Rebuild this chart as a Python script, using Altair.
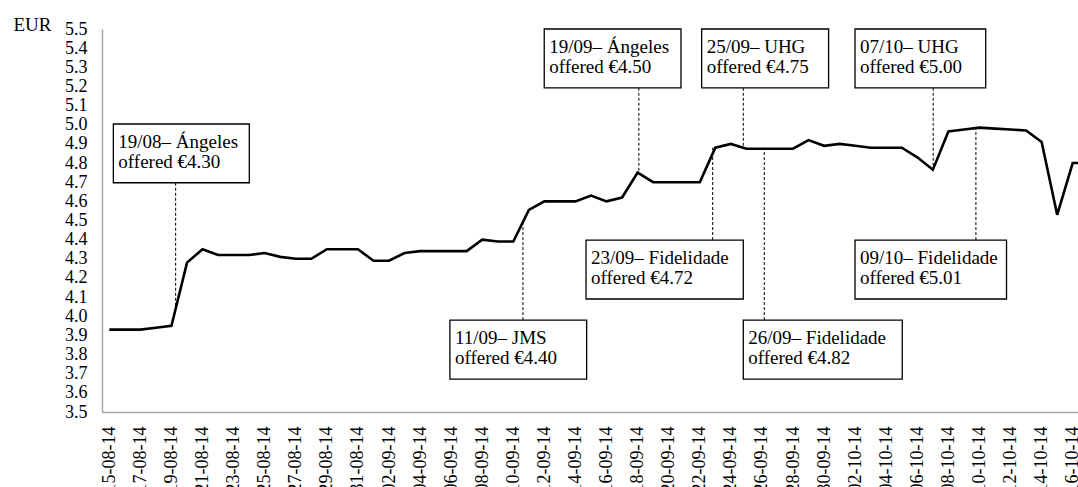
import json
import altair as alt
import pandas as pd

# ---- data -------------------------------------------------------------
dates = [
    "15-08-14", "16-08-14", "17-08-14", "18-08-14", "19-08-14", "20-08-14", "21-08-14",
    "22-08-14", "23-08-14", "24-08-14", "25-08-14", "26-08-14", "27-08-14", "28-08-14",
    "29-08-14", "30-08-14", "31-08-14", "01-09-14", "02-09-14", "03-09-14", "04-09-14",
    "05-09-14", "06-09-14", "07-09-14", "08-09-14", "09-09-14", "10-09-14", "11-09-14",
    "12-09-14", "13-09-14", "14-09-14", "15-09-14", "16-09-14", "17-09-14", "18-09-14",
    "19-09-14", "20-09-14", "21-09-14", "22-09-14", "23-09-14", "24-09-14", "25-09-14",
    "26-09-14", "27-09-14", "28-09-14", "29-09-14", "30-09-14", "01-10-14", "02-10-14",
    "03-10-14", "04-10-14", "05-10-14", "06-10-14", "07-10-14", "08-10-14", "09-10-14",
    "10-10-14", "11-10-14", "12-10-14", "13-10-14", "14-10-14", "15-10-14", "16-10-14",
    "17-10-14",
]
prices = [
    3.93, 3.93, 3.93, 3.94, 3.95, 4.28, 4.35,
    4.32, 4.32, 4.32, 4.33, 4.31, 4.30, 4.30,
    4.35, 4.35, 4.35, 4.29, 4.29, 4.33, 4.34,
    4.34, 4.34, 4.34, 4.40, 4.39, 4.39, 4.555,
    4.60, 4.60, 4.60, 4.63, 4.60, 4.62, 4.75,
    4.70, 4.70, 4.70, 4.70, 4.88, 4.90, 4.875,
    4.875, 4.875, 4.875, 4.92, 4.89, 4.90, 4.89,
    4.88, 4.88, 4.88, 4.83, 4.765, 4.965, 4.975,
    4.985, 4.98, 4.975, 4.97, 4.91, 4.53, 4.80,
    4.80,
]
tick_labels = dates[0:63:2]
y_ticks = [round(3.5 + 0.1 * i, 1) for i in range(21)]

# annotations: text, anchor (day index), tip value, box corners (day index / EUR)
ann_line1 = ["19/08\u2013 \u00c1ngeles", "11/09\u2013 JMS", "19/09\u2013 \u00c1ngeles",
             "23/09\u2013 Fidelidade", "25/09\u2013 UHG", "07/10\u2013 UHG",
             "26/09\u2013 Fidelidade", "09/10\u2013 Fidelidade"]
ann_line2 = ["offered \u20ac4.30", "offered \u20ac4.40", "offered \u20ac4.50",
             "offered \u20ac4.72", "offered \u20ac4.75", "offered \u20ac5.00",
             "offered \u20ac4.82", "offered \u20ac5.01"]
ann_at = [4.27, 26.62, 34.08, 38.83, 40.80, 53.02, 42.15, 55.77]
ann_tip = [4.05, 4.49, 4.755, 4.88, 4.88, 4.78, 4.88, 4.98]
box_left = [0.26, 21.92, 27.99, 30.68, 38.12, 47.99, 40.80, 47.99]
box_right = [9.01, 30.72, 36.79, 40.80, 46.29, 56.40, 51.03, 57.74]
box_top = [5.004, 3.980, 5.500, 4.398, 5.500, 5.500, 3.980, 4.398]
box_bottom = [4.697, 3.672, 5.193, 4.090, 5.193, 5.193, 3.672, 4.090]

# ---- tables -----------------------------------------------------------
series = pd.DataFrame({"idx": list(range(len(dates))), "date": dates, "eur": prices})
ann = pd.DataFrame({
    "l1": ann_line1, "l2": ann_line2, "at": ann_at, "tip": ann_tip,
    "x0": box_left, "x1": box_right, "top": box_top, "bottom": box_bottom,
})
# dashed connector runs from the box edge facing the line to the tip
ann["edge"] = [b if b > t else tp for b, t, tp in zip(ann["bottom"], ann["tip"], ann["top"])]

FONT = "Times New Roman, Liberation Serif, Tinos, serif"
x_scale = alt.Scale(domain=[-0.47, 62.34], nice=False, zero=False)
y_scale = alt.Scale(domain=[3.5, 5.5], nice=False, zero=False)

label_expr = json.dumps(tick_labels) + "[round(datum.value / 2)]"

x_axis = alt.Axis(
    values=list(range(0, 63, 2)), labelExpr=label_expr, labelAngle=-90,
    labelFont=FONT, labelFontSize=18, labelColor="#000000", labelPadding=14,
    labelOverlap=False, labelFlush=False, ticks=False, grid=False,
    domainColor="#a6a6a6", domainWidth=1.5, title=None,
)
y_axis = alt.Axis(
    values=y_ticks, format=".1f", labelFont=FONT, labelFontSize=18,
    labelColor="#000000", labelPadding=15, labelOverlap=False, labelFlush=False,
    ticks=False, grid=False, domainColor="#a6a6a6", domainWidth=1.5,
    title="EUR", titleAngle=0, titleFont=FONT, titleFontSize=19,
    titleFontWeight="normal", titleColor="#000000", titleAlign="left",
    titleBaseline="alphabetic", titleX=-89, titleY=1,
)

line = alt.Chart(series).mark_line(color="#000000", strokeWidth=2.6, clip=True).encode(
    x=alt.X("idx:Q", scale=x_scale, axis=x_axis),
    y=alt.Y("eur:Q", scale=y_scale, axis=y_axis),
)

base = alt.Chart(ann)
dash = base.mark_rule(color="#000000", strokeWidth=1, strokeDash=[3, 2]).encode(
    x=alt.X("at:Q", scale=x_scale, axis=None),
    y=alt.Y("edge:Q", scale=y_scale, axis=None),
    y2="tip:Q",
)
boxes = base.mark_rect(fill="#ffffff", stroke="#000000", strokeWidth=1.3).encode(
    x=alt.X("x0:Q", scale=x_scale, axis=None), x2="x1:Q",
    y=alt.Y("top:Q", scale=y_scale, axis=None), y2="bottom:Q",
)
text1 = base.mark_text(font=FONT, fontSize=19, color="#000000", align="left",
                       baseline="alphabetic", dx=5, dy=24).encode(
    x=alt.X("x0:Q", scale=x_scale, axis=None),
    y=alt.Y("top:Q", scale=y_scale, axis=None), text="l1:N",
)
text2 = base.mark_text(font=FONT, fontSize=19, color="#000000", align="left",
                       baseline="alphabetic", dx=5, dy=44).encode(
    x=alt.X("x0:Q", scale=x_scale, axis=None),
    y=alt.Y("top:Q", scale=y_scale, axis=None), text="l2:N",
)

chart = alt.layer(line, dash, boxes, text1, text2).resolve_axis(
    x="independent", y="independent"
).properties(
    width=976, height=383,
    autosize=alt.AutoSizeParams(type="none"),
    padding={"left": 102, "top": 29, "right": 0, "bottom": 75},
    background="#ffffff",
).configure(font=FONT).configure_axis(
    labelFont=FONT, titleFont=FONT
).configure_view(stroke=None)

chart.save("out.html", embed_options={"renderer": "svg", "actions": False})
